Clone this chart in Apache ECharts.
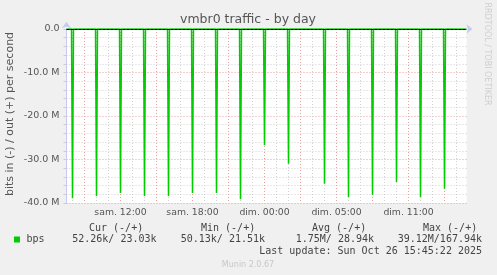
<!DOCTYPE html>
<html><head><meta charset="utf-8">
<script src="https://cdn.jsdelivr.net/npm/echarts@6/dist/echarts.min.js"></script>
<style>html,body{margin:0;padding:0;background:#f0f0f0;}#c{width:497px;height:275px;}</style>
</head><body><div id="c"></div>
<script>
// ---- data (times in real minutes since Sat 00:00 CEST) ----
const chartTitle = 'vmbr0 traffic - by day';
const yAxisName = 'bits in (-) / out (+) per second';
const xTickMinutes = [720, 1080, 1440, 1800, 2160];
const xTickLabels = ['sam. 12:00', 'sam. 18:00', 'dim. 00:00', 'dim. 05:00', 'dim. 11:00'];
const yTickValues = [0, -10e6, -20e6, -30e6, -40e6];
const yTickLabels = ['0.0', '-10.0 M', '-20.0 M', '-30.0 M', '-40.0 M'];
const inTimes = [450, 475, 480, 485, 595, 600, 605, 715, 720, 725, 835, 840, 845, 955, 960, 965,
  1075, 1080, 1085, 1195, 1200, 1205, 1315, 1320, 1325, 1435, 1440, 1445, 1555, 1560, 1565,
  1735, 1740, 1745, 1855, 1860, 1865, 1975, 1980, 1985, 2095, 2100, 2105, 2215, 2220, 2225,
  2335, 2340, 2345, 2450];
const inMbps = [0.052, 0.051, 38.9, 0.053, 0.050, 38.4, 0.052, 0.051, 37.7, 0.052, 0.050, 38.4, 0.053, 0.051, 38.4, 0.052,
  0.051, 37.7, 0.052, 0.050, 37.7, 0.053, 0.051, 39.12, 0.052, 0.050, 26.7, 0.052, 0.051, 31.0, 0.052,
  0.050, 35.6, 0.053, 0.051, 38.6, 0.052, 0.050, 38.1, 0.052, 0.051, 35.2, 0.053, 0.050, 38.6, 0.052,
  0.051, 36.7, 0.052, 0.052];
const outTimes = [450, 480, 600, 720, 840, 960, 1080, 1200, 1320, 1440, 1560, 1740, 1860, 1980, 2100, 2220, 2340, 2450];
const outMbps = [0.023, 0.16, 0.12, 0.15, 0.13, 0.14, 0.12, 0.15, 0.168, 0.11, 0.12, 0.14, 0.15, 0.13, 0.12, 0.15, 0.13, 0.023];
const legendName = 'bps';
const legendHeaders = ['Cur (-/+)', 'Min (-/+)', 'Avg (-/+)', 'Max (-/+)'];
const legendValues = ['52.26k/ 23.03k', '50.13k/ 21.51k', '1.75M/ 28.94k', '39.12M/167.94k'];
const lastUpdate = 'Last update: Sun Oct 26 15:45:22 2025';
const footerText = 'Munin 2.0.67';
const watermark = 'RRDTOOL / TOBI OETIKER';

// ---- layout / styles ----
const GREEN = '#00cc00';
const GRAY = '#d0d0d0';
const RED = '#e8a0a0';
const NONE = 'rgba(0,0,0,0)';
const AXIS = '#c8c8f4';
const headerX = [89, 201, 312, 423];
const valueRightX = [156.5, 265, 374, 482];

const xColors = [NONE, GRAY, NONE, RED, NONE, GRAY];
const yColors = [];
for (let k = 0; k <= 20; k++) yColors.push(k % 5 === 0 ? RED : GRAY);
yColors[20] = NONE;

const chart = echarts.init(document.getElementById('c'), null, {renderer: 'canvas'});
const sans = 'DejaVu Sans';

const graphics = [
  {type: 'text', x: 248, y: 20, style: {text: chartTitle, font: '12.5px "DejaVu Sans"', fill: '#555', textAlign: 'center', textVerticalAlign: 'middle'}},
  {type: 'text', x: 10, y: 114, rotation: Math.PI / 2, style: {text: yAxisName, font: '11px "DejaVu Sans"', fill: '#555', textAlign: 'center', textVerticalAlign: 'middle'}},
  {type: 'text', x: 487.5, y: 54, rotation: -Math.PI / 2, style: {text: watermark, font: '8px "DejaVu Sans"', fill: '#cfcfcf', textAlign: 'center', textVerticalAlign: 'middle'}},
  {type: 'rect', shape: {x: 14, y: 236.5, width: 6, height: 6}, style: {fill: GREEN}},
  {type: 'text', x: 26.5, y: 239.5, style: {text: legendName, font: '10px "DejaVu Sans Mono"', fill: '#444', textAlign: 'left', textVerticalAlign: 'middle'}},
  {type: 'text', x: 482, y: 251, style: {text: lastUpdate, font: '10px "DejaVu Sans Mono"', fill: '#444', textAlign: 'right', textVerticalAlign: 'middle'}},
  {type: 'text', x: 248, y: 264.5, style: {text: footerText, font: '8px "DejaVu Sans"', fill: '#c8c8c8', textAlign: 'center', textVerticalAlign: 'middle'}}
];
legendHeaders.forEach((h, i) => graphics.push({type: 'text', x: headerX[i], y: 228, style: {text: h, font: '10px "DejaVu Sans Mono"', fill: '#444', textAlign: 'left', textVerticalAlign: 'middle'}}));
legendValues.forEach((v, i) => graphics.push({type: 'text', x: valueRightX[i], y: 239.5, style: {text: v, font: '10px "DejaVu Sans Mono"', fill: '#444', textAlign: 'right', textVerticalAlign: 'middle'}}));

chart.setOption({
  animation: false,
  backgroundColor: '#f0f0f0',
  grid: {left: 66.5, top: 29, width: 400, height: 174, show: true, backgroundColor: '#ffffff', borderWidth: 0, containLabel: false},
  xAxis: {
    type: 'value', min: 450, max: 2450, interval: 30,
    axisLine: {show: true, lineStyle: {color: AXIS, width: 1}, symbol: ['none', 'arrow'], symbolSize: [7, 6], symbolOffset: [0, 6]},
    axisTick: {show: false},
    splitLine: {show: true, showMaxLine: false, lineStyle: {color: xColors, width: 1, type: [1, 2]}},
    axisLabel: {
      margin: 5, color: '#555', fontFamily: sans, fontSize: 9.3, showMinLabel: true, showMaxLabel: false,
      formatter: v => { const i = xTickMinutes.indexOf(v); return i >= 0 ? xTickLabels[i] : ''; }
    }
  },
  yAxis: {
    type: 'value', min: -40e6, max: 0, interval: 2e6,
    axisLine: {show: true, lineStyle: {color: AXIS, width: 1}, symbol: ['none', 'arrow'], symbolSize: [7, 6], symbolOffset: [0, 7]},
    axisTick: {show: true, length: 3, lineStyle: {color: '#cccccc'}},
    splitLine: {show: true, lineStyle: {color: yColors, width: 1, type: [1, 2]}},
    axisLabel: {
      margin: 7, color: '#555', fontFamily: sans, fontSize: 9.5,
      formatter: v => { const i = yTickValues.indexOf(v); return i >= 0 ? yTickLabels[i] : ''; }
    }
  },
  series: [
    {
      type: 'line', name: 'out', z: 2, symbol: 'none', silent: true,
      lineStyle: {color: GREEN, width: 1},
      data: outTimes.map((t, i) => [t, outMbps[i] * 1e6])
    },
    {
      type: 'line', name: 'zero', z: 3, symbol: 'none', silent: true, data: [],
      markLine: {silent: true, symbol: 'none', label: {show: false}, lineStyle: {color: '#000', width: 1, type: [3, 1]}, data: [{yAxis: 0}]}
    },
    {
      type: 'line', name: 'in', z: 4, symbol: 'none', silent: true,
      lineStyle: {color: GREEN, width: 1.5},
      data: inTimes.map((t, i) => [t, -inMbps[i] * 1e6])
    }
  ],
  graphic: graphics
});
</script></body></html>
